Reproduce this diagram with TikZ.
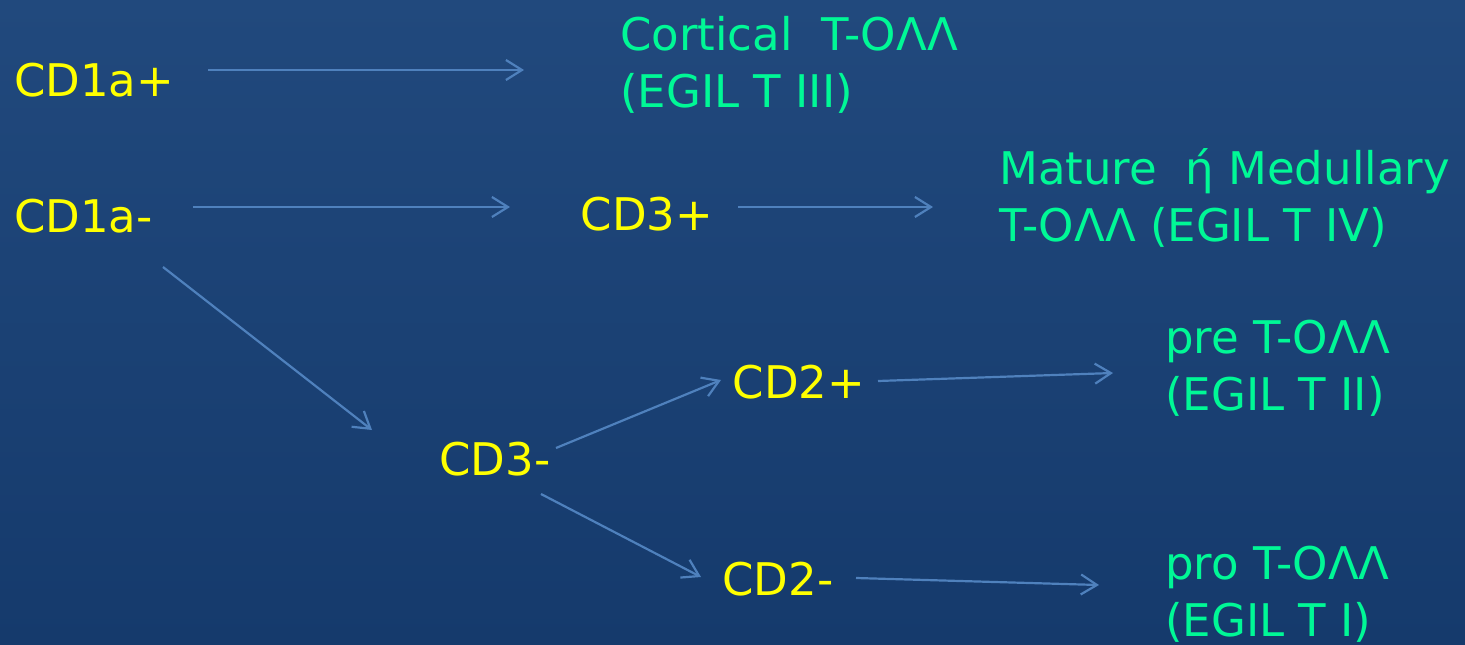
\documentclass[tikz,border=0pt]{standalone}
\usepackage{fontspec}
\setmainfont{DejaVu Sans}
\usetikzlibrary{arrows.meta}
\definecolor{bgtop}{HTML}{21497D}
\definecolor{bgbot}{HTML}{153A6C}
\definecolor{lbly}{HTML}{FFFF00}
\definecolor{lblg}{HTML}{00F896}
\definecolor{arrc}{HTML}{4F81BD}
\begin{document}
\begin{tikzpicture}[x=1pt,y=-1pt,
 ylab/.style={text=lbly, font=\fontsize{45}{57}\selectfont, inner sep=0pt, anchor=base},
 glab/.style={text=lblg, font=\fontsize{45}{57}\selectfont, inner sep=0pt, anchor=base west, align=left},
 arr/.style={draw=arrc, line width=2.2pt, -{Straight Barb[length=16pt,width=20pt,line width=2.2pt]}}]
\shade[top color=bgtop, bottom color=bgbot] (0,0) rectangle (1465,645);
\useasboundingbox (0,0) rectangle (1465,645);
% yellow labels
\node[ylab, anchor=base west] (cd1ap) at (14,96) {CD1a+};
\node[ylab, anchor=base west] (cd1am) at (14,232) {CD1a-};
\node[ylab] (cd3p) at (647,230) {CD3+};
\node[ylab] (cd3m) at (495,475) {CD3-};
\node[ylab] (cd2p) at (799,398) {CD2+};
\node[ylab] (cd2m) at (778,595) {CD2-};
% green labels (base anchor = baseline of the last line)
\node[glab] (cort) at (620,107) {Cortical\ \ T-ΟΛΛ\\(EGIL T III)};
\node[glab] (mat) at (999,241) {Mature\ \ ή Medullary\\T-ΟΛΛ (EGIL T IV)};
\node[glab] (pre) at (1165,410) {pre T-ΟΛΛ\\(EGIL T II)};
\node[glab] (pro) at (1165,636) {pro T-ΟΛΛ\\(EGIL T I)};
% connector end points
\coordinate (a1s) at (208,70);  \coordinate (a1e) at (524,70);
\coordinate (a2s) at (193,207); \coordinate (a2e) at (510,207);
\coordinate (a3s) at (738,207); \coordinate (a3e) at (933,207);
\coordinate (a4s) at (163,267); \coordinate (a4e) at (372,430);
\coordinate (a5s) at (556,448); \coordinate (a5e) at (721,380);
\coordinate (a6s) at (541,494); \coordinate (a6e) at (701,577);
\coordinate (a7s) at (878,381); \coordinate (a7e) at (1113,373);
\coordinate (a8s) at (856,578); \coordinate (a8e) at (1099,585);
\draw[arr] (a1s) -- (a1e);
\draw[arr] (a2s) -- (a2e);
\draw[arr] (a3s) -- (a3e);
\draw[arr] (a4s) -- (a4e);
\draw[arr] (a5s) -- (a5e);
\draw[arr] (a6s) -- (a6e);
\draw[arr] (a7s) -- (a7e);
\draw[arr] (a8s) -- (a8e);
\end{tikzpicture}
\end{document}
